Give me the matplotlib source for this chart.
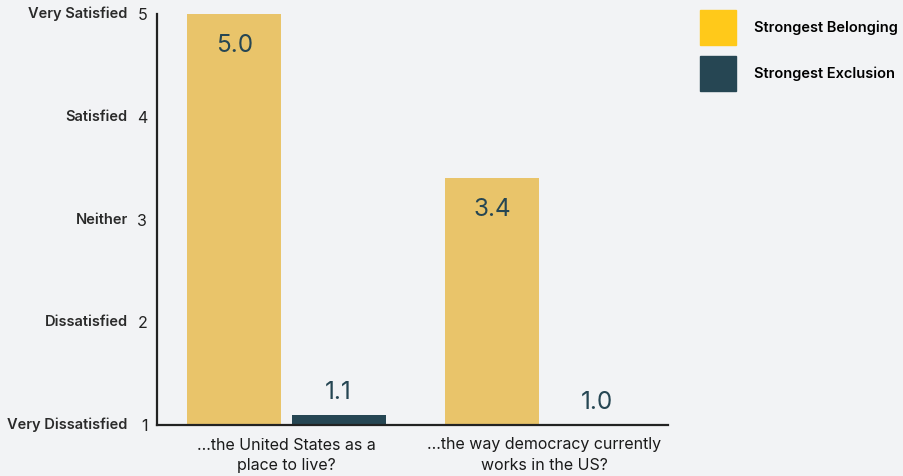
import matplotlib.pyplot as plt
import numpy as np
from matplotlib.patches import Patch

plt.rcParams['font.family'] = ['Inter', 'DejaVu Sans']

questions = ['...the United States as a\nplace to live?', '...the way democracy currently\nworks in the US?']
belonging = [5.0, 3.4]
exclusion = [1.1, 1.0]
scale_names = ['Very Dissatisfied', 'Dissatisfied', 'Neither', 'Satisfied', 'Very Satisfied']
scale_vals = [1, 2, 3, 4, 5]

bg = '#f2f3f5'
gold = '#e9c46a'
gold_leg = '#ffc91a'
dark = '#264653'

fig = plt.figure(figsize=(9.04, 4.76), dpi=100, facecolor=bg)
ax = fig.add_axes([157/904, 1-425/476, 511/904, 411/476])
ax.set_facecolor(bg)

x = np.arange(len(questions))
w = 0.364
off = 0.02
ax.bar(x - w/2 - off, np.array(belonging) - 1, w, bottom=1, color=gold)
ax.bar(x + w/2 + off, np.array(exclusion) - 1, w, bottom=1, color=dark)

# value labels: inside the gold bars, above the dark ones
for xi, v in zip(x - w/2 - off, belonging):
    ax.annotate(f'{v:.1f}', (xi, v), xytext=(0, -22.5), textcoords='offset points',
                ha='center', va='center', fontsize=17.5, color=dark)
for xi, v in zip(x + w/2 + off, exclusion):
    ax.annotate(f'{v:.1f}', (xi, v), xytext=(0, 16), textcoords='offset points',
                ha='center', va='center', fontsize=17.5, color=dark)

ax.set_xlim(-0.502, 1.479)
ax.set_ylim(1, 5)
ax.set_xticks(x)
ax.set_xticklabels(questions, fontsize=11.5, color='#1a1a1a', linespacing=1.45)
ax.set_yticks(scale_vals)
ax.set_yticklabels([str(v) for v in scale_vals], fontsize=11.5, color='#222222')
ax.tick_params(length=0, pad=7)
ax.tick_params(axis='x', pad=9)
for v, name in zip(scale_vals, scale_names):
    ax.annotate(name, xy=(0, v), xycoords=('axes fraction', 'data'), xytext=(-21, 0),
                textcoords='offset points', ha='right', va='center', fontsize=10.5,
                fontweight='semibold', color='#2a2a2a')

for s in ['top', 'right']:
    ax.spines[s].set_visible(False)
for s in ['left', 'bottom']:
    ax.spines[s].set_color('#222222')
    ax.spines[s].set_linewidth(1.6)

handles = [Patch(color=gold_leg, label='Strongest Belonging'),
           Patch(color=dark, label='Strongest Exclusion')]
fig.legend(handles=handles, loc='upper left', bbox_to_anchor=(687/904, 1 + 3/476),
           frameon=False, handlelength=2.47, handleheight=3.3, handletextpad=1.2,
           labelspacing=0.75, prop={'size': 10.5, 'weight': 'semibold'})

fig.savefig('out.png', dpi=100, facecolor=bg)
